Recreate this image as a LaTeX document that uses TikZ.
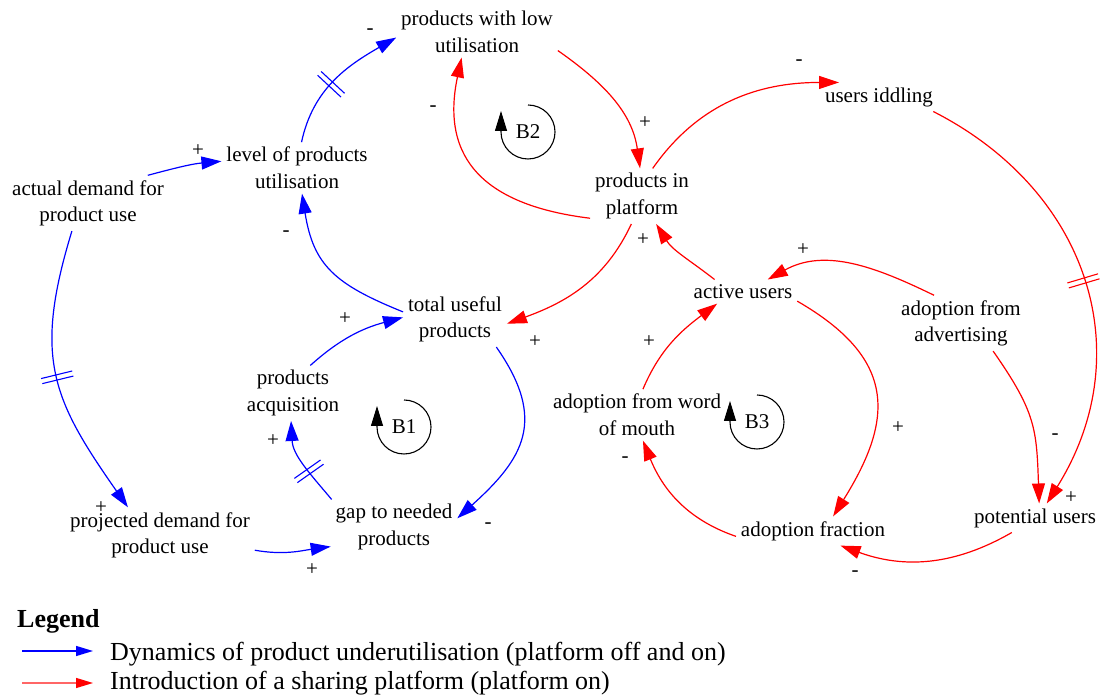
\documentclass[tikz,border=0pt]{standalone}
\usepackage{fontspec}
\setmainfont{Liberation Serif}
\usetikzlibrary{arrows.meta,decorations.markings}
\definecolor{linkblue}{RGB}{0,0,255}
\definecolor{linkred}{RGB}{255,0,0}
\begin{document}
\begin{tikzpicture}[x=1pt,y=1pt,
  var/.style={align=center,inner sep=2pt,outer sep=3pt,font=\fontsize{21}{26.5}\selectfont},
  sign/.style={inner sep=0pt,font=\fontsize{21}{24}\selectfont},
  loopname/.style={inner sep=0pt,font=\fontsize{21}{24}\selectfont},
  link/.style={line width=1.2pt,-{Triangle[length=20pt,width=13pt]}},
  bluelink/.style={link,linkblue},
  redlink/.style={link,linkred},
  delay/.style={postaction={decorate,decoration={markings,
      mark=at position #1 with {\draw[-,line width=1.1pt] (-2.6,-16) -- (-2.6,16) (2.6,-16) -- (2.6,16);}}}},
  loopline/.style={line width=1.1pt,black,-{Triangle[length=20pt,width=12pt]}},
  legendtext/.style={inner sep=0pt,anchor=base west,font=\fontsize{26}{26}\selectfont}
]
\useasboundingbox (0,0) rectangle (1100,698);
\fill[white] (0,0) rectangle (1100,698);

% ---------- variables ----------
\node[var] (plu) at (477,666.1) {products with low\\utilisation};
\node[var] (lpu) at (297,530.1) {level of products\\utilisation};
\node[var] (ad)  at (88,494.8)  {actual demand for\\product use};
\node[var] (ui)  at (879,601)   {users iddling};
\node[var] (pip) at (642,501.8) {products in\\platform};
\node[var] (tup) at (455,378.8) {total useful\\products};
\node[var] (au)  at (743,406.4) {active users};
\node[var] (aa)  at (961,374.8) {adoption from\\advertising};
\node[var] (pa)  at (293,304.8) {products\\acquisition};
\node[var] (awm) at (637,283.1) {adoption from word\\of mouth};
\node[var] (pd)  at (160,162.8) {projected demand for\\product use};
\node[var] (gap) at (394,170.8) {gap to needed\\products};
\node[var] (af)  at (813,167)   {adoption fraction};
\node[var] (pu)  at (1035,180)  {potential users};

% ---------- product underutilisation links ----------
\draw[bluelink] (ad.25) to[out=15,in=185] (lpu.175);
\draw[bluelink,delay=0.45] (lpu.80) to[out=78,in=210] (plu.184);
\draw[bluelink] (tup.172) to[out=158,in=-81,looseness=1.2] (lpu.-79);
\draw[bluelink,delay=0.5] (ad.240) to[out=253,in=125,looseness=1.2] (pd.139);
\draw[bluelink] (pd.-9) to[out=-10,in=188] (gap.197);
\draw[bluelink,delay=0.4] (gap.156) to[out=130,in=-87] (pa.266);
\draw[bluelink] (pa.58) to[out=42,in=195] (tup.178);
\draw[bluelink] (tup.-34) to[out=-55,in=42,looseness=1.3] (gap.8);

% ---------- sharing platform links ----------
\draw[redlink] (plu.-13) to[out=-35,in=98] (pip.94);
\draw[redlink] (pip.203) to[out=173,in=258,looseness=1.3] (plu.239);
\draw[redlink] (pip.69) to[out=55,in=180] (ui.160);
\draw[redlink,delay=0.5] (ui.-15) to[out=-27,in=58,looseness=1.1] (pu.51);
\draw[redlink] (pip.249) to[out=245,in=20] (tup.-5);
\draw[redlink] (au.157) to[out=142,in=-58] (pip.-63);
\draw[redlink] (aa.134) to[out=154,in=29] (au.26);
\draw[redlink] (au.-10) to[out=-30,in=58,looseness=1.35] (af.36);
\draw[redlink] (aa.-41) to[out=-55,in=92,looseness=1.2] (pu.74);
\draw[redlink] (pu.212) to[out=210,in=-20] (af.-28);
\draw[redlink] (af.184) to[out=161,in=-68] (awm.-77);
\draw[redlink] (awm.77) to[out=67,in=217] (au.205);

% ---------- polarities ----------
\node[sign] (s1)  at (198,547) {+};
\node[sign] (s2)  at (370,666) {-};
\node[sign] (s3)  at (286,464) {-};
\node[sign] (s4)  at (101,190) {+};
\node[sign] (s5)  at (312,128) {+};
\node[sign] (s6)  at (273,257) {+};
\node[sign] (s7)  at (345,379) {+};
\node[sign] (s8)  at (488,172) {-};
\node[sign] (s9)  at (535,356) {+};
\node[sign] (s10) at (645,575) {+};
\node[sign] (s11) at (433,589) {-};
\node[sign] (s12) at (799,635) {-};
\node[sign] (s13) at (643,458) {+};
\node[sign] (s14) at (1071,200) {+};
\node[sign] (s15) at (803,448) {+};
\node[sign] (s16) at (898,270) {+};
\node[sign] (s17) at (1055,261) {-};
\node[sign] (s18) at (855,124) {-};
\node[sign] (s19) at (625,238) {-};
\node[sign] (s20) at (649,356) {+};

% ---------- balancing loops ----------
\node[loopname] (b1) at (404,271) {B1};
\node[loopname] (b2) at (528,566) {B2};
\node[loopname] (b3) at (757,276) {B3};
\foreach \lp in {b1,b2,b3}
  \draw[loopline] ([shift={(0,27)}]\lp.center) arc[start angle=90,end angle=-180,radius=27] -- ++(0,21);

% ---------- legend ----------
\node[inner sep=0pt,anchor=base west,font=\fontsize{26}{26}\selectfont\bfseries] (legend) at (17,70) {Legend};
\coordinate (lb1) at (22,47);
\coordinate (lb2) at (93,47);
\coordinate (lr1) at (22,15);
\coordinate (lr2) at (93,15);
\draw[line width=1.3pt,linkblue,-{Triangle[length=17pt,width=10pt]}] (lb1) -- (lb2);
\draw[line width=1.3pt,linkred!60,-{Triangle[length=17pt,width=10pt,color=linkred]}] (lr1) -- (lr2);
\node[legendtext] (lbt) at (110,37) {Dynamics of product underutilisation (platform off and on)};
\node[legendtext] (lrt) at (110,8) {Introduction of a sharing platform (platform on)};
\end{tikzpicture}
\end{document}
